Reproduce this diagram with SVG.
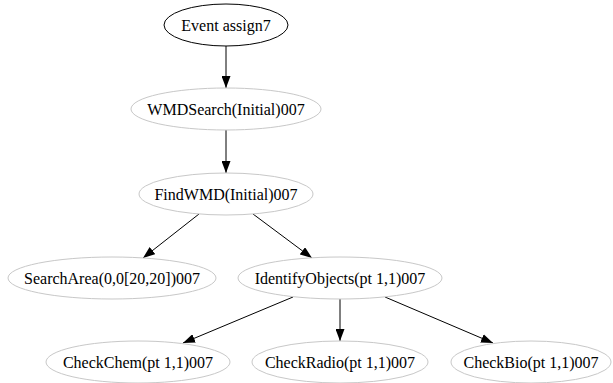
<svg xmlns="http://www.w3.org/2000/svg" width="613" height="383" viewBox="0 0 613 383">
  <style>
    .node ellipse { fill: #ffffff; stroke: #c8c8c8; stroke-width: 1; }
    .node.root ellipse { stroke: #000000; }
    .node text { font-family: "Liberation Serif", "Times New Roman", serif; font-size: 16px; fill: #000000; text-anchor: middle; dominant-baseline: central; }
    .edges line { stroke: #000000; stroke-width: 1; marker-end: url(#arrow); }
  </style>
  <defs>
    <marker id="arrow" markerUnits="userSpaceOnUse" markerWidth="12" markerHeight="9" refX="12" refY="4.5" orient="auto">
      <path d="M0,0 L12,4.5 L0,9 Z" fill="#000000"/>
    </marker>
  </defs>
  <rect width="613" height="383" fill="#ffffff"/>

  <!-- connectors -->
  <g id="edges" class="edges">
    <line x1="226" y1="46" x2="226" y2="88"/>
    <line x1="226" y1="130" x2="226" y2="173"/>
    <line x1="199" y1="214" x2="143" y2="258"/>
    <line x1="253" y1="214" x2="312" y2="258"/>
    <line x1="293" y1="297" x2="183" y2="343"/>
    <line x1="340" y1="299" x2="340" y2="341"/>
    <line x1="385" y1="297" x2="493" y2="343"/>
  </g>

  <!-- nodes -->
  <g id="event_assign7" class="node root">
    <ellipse cx="226" cy="25" rx="62" ry="21"/>
    <text x="226" y="25">Event assign7</text>
  </g>
  <g id="wmdsearch" class="node">
    <ellipse cx="226" cy="109" rx="95" ry="21"/>
    <text x="226" y="109">WMDSearch(Initial)007</text>
  </g>
  <g id="findwmd" class="node">
    <ellipse cx="226" cy="194" rx="87" ry="21"/>
    <text x="226" y="194">FindWMD(Initial)007</text>
  </g>
  <g id="searcharea" class="node">
    <ellipse cx="112" cy="278" rx="104" ry="21"/>
    <text x="112" y="278">SearchArea(0,0[20,20])007</text>
  </g>
  <g id="identifyobjects" class="node">
    <ellipse cx="340" cy="278" rx="102" ry="21"/>
    <text x="340" y="278">IdentifyObjects(pt 1,1)007</text>
  </g>
  <g id="checkchem" class="node">
    <ellipse cx="138" cy="362" rx="92" ry="21"/>
    <text x="138" y="362">CheckChem(pt 1,1)007</text>
  </g>
  <g id="checkradio" class="node">
    <ellipse cx="340" cy="362" rx="88" ry="21"/>
    <text x="340" y="362">CheckRadio(pt 1,1)007</text>
  </g>
  <g id="checkbio" class="node">
    <ellipse cx="531" cy="362" rx="80" ry="21"/>
    <text x="531" y="362">CheckBio(pt 1,1)007</text>
  </g>
</svg>
